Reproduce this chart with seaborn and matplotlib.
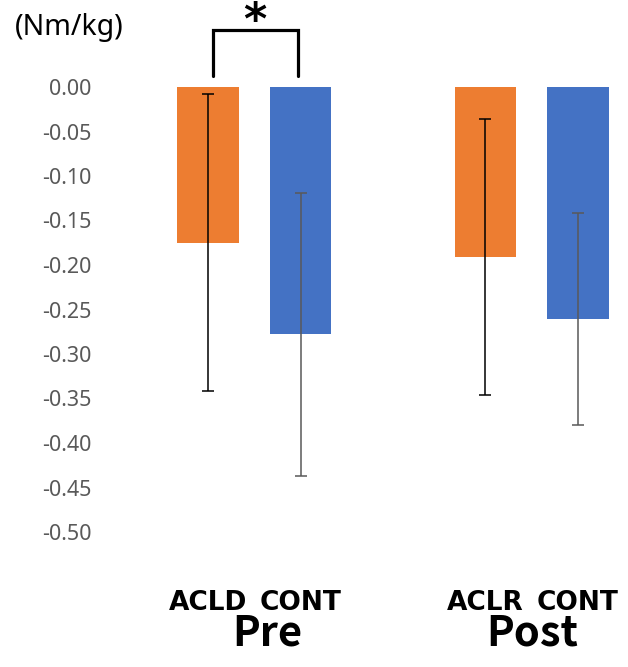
import numpy as np
import pandas as pd
import seaborn as sns
import matplotlib.pyplot as plt
from matplotlib.transforms import blended_transform_factory

# values
groups = ["Pre", "Pre", "Post", "Post"]
series = ["ACLD", "CONT", "ACLR", "CONT"]
kind = ["injured", "control", "injured", "control"]
pos = [0, 1, 3, 4]
means = [-0.175, -0.278, -0.191, -0.261]
sds = [0.167, 0.159, 0.155, 0.119]
yticks = np.round(np.arange(0, -0.51, -0.05), 2)

colors = {"injured": "#ED7D31", "control": "#4472C4"}
err_colors = {"injured": "black", "control": "#595959"}

df = pd.DataFrame({"group": groups, "series": series, "kind": kind,
                   "pos": pos, "mean": means, "sd": sds})

sns.set_theme(style="white")
plt.rcParams["font.family"] = ["Noto Sans", "DejaVu Sans"]
plt.rcParams["axes.unicode_minus"] = False
bold_font = ["Noto Sans CJK KR", "DejaVu Sans"]

W, H = 628, 667
fig = plt.figure(figsize=(W / 100, H / 100), dpi=100)
ax = fig.add_axes([100 / W, (H - 532) / H, 528 / W, 445 / H])

sns.barplot(data=df, x="pos", y="mean", hue="kind", palette=colors,
            native_scale=True, width=0.67, dodge=False, errorbar=None,
            legend=False, linewidth=0, saturation=1, ax=ax)

# error bars (sd)
for _, r in df.iterrows():
    ax.errorbar(r["pos"], r["mean"], yerr=r["sd"], fmt="none",
                ecolor=err_colors[r["kind"]], elinewidth=1.1,
                capsize=4.3, capthick=1.1)

ax.set_xlim(-108 / 92.5, 420 / 92.5)
ax.set_ylim(-0.5, 0)
ax.set_yticks(yticks)
ax.set_yticklabels([f"{v:.2f}" for v in yticks])
ax.set_xticks([])
ax.set_xlabel("")
ax.set_ylabel("")
ax.tick_params(axis="y", length=0, pad=6, labelsize=15.5, labelcolor="#595959")
sns.despine(ax=ax, left=True, bottom=True)

# significance bracket between Pre bars
x0, x1 = pos[0] + 0.05, pos[1] - 0.03
y_low, y_top = 0.0124, 0.064
ax.plot([x0, x0, x1, x1], [y_low, y_top, y_top, y_low], color="black",
        lw=2.3, clip_on=False, solid_joinstyle="miter")
ax.text((x0 + x1) / 2, 0.059, "*", ha="center", va="baseline",
        fontsize=32, fontweight="bold", family="DejaVu Sans", color="black")

# unit label
fig.text(15 / W, 1 - 28 / H, "(Nm/kg)", ha="left", va="center",
         fontsize=20.5, color="black")

# category labels below the bars
trans = blended_transform_factory(ax.transData, fig.transFigure)
for p, s in zip(pos, series):
    ax.text(p, 1 - 609.5 / H, s, ha="center", va="baseline", fontsize=19,
            fontweight="bold", family="DejaVu Sans", color="black",
            transform=trans)
shift = {"Pre": 0.14, "Post": 0.0}
for g, p in df.groupby("group", sort=False)["pos"].mean().items():
    ax.text(p + shift[g], 1 - 646 / H, g, ha="center", va="baseline",
            fontsize=30, fontweight="bold", family=bold_font, color="black",
            transform=trans)

fig.savefig("out.png", dpi=100)
